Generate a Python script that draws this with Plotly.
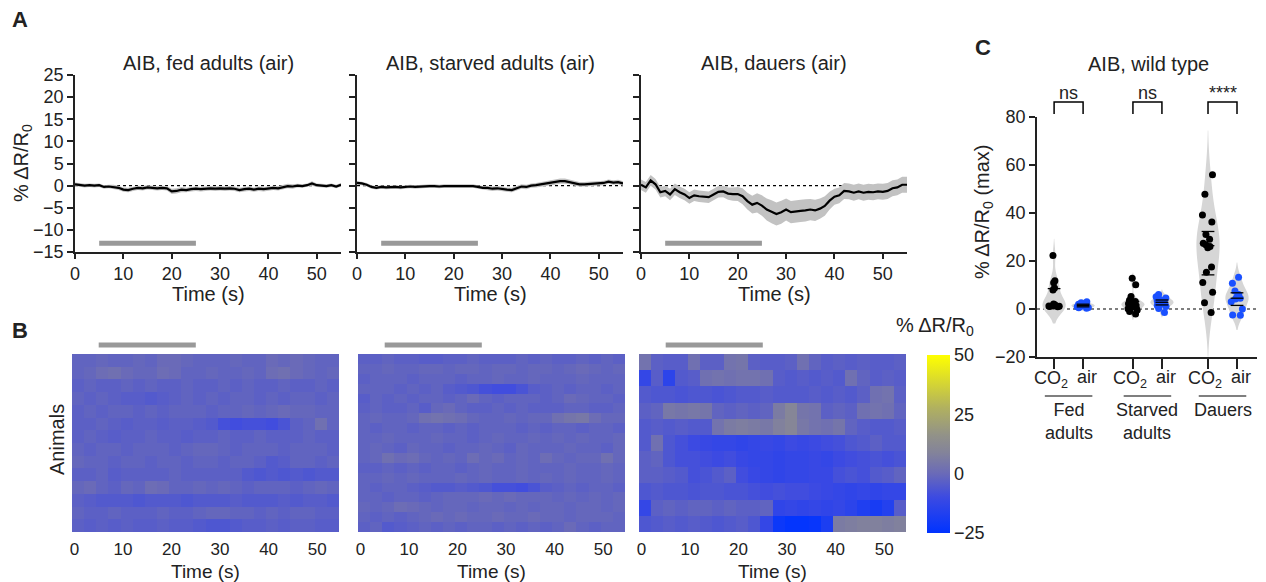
import numpy as np
import plotly.graph_objects as go

W, H = 1266, 582
def px(x): return x / W
def py(y): return 1 - y / H

FONT = "Arial, 'Liberation Sans', sans-serif"
TXT = "#222222"

# ---------------- Panel A data (1 s resolution) ----------------
time_s = list(range(56))
fed_mean = [0.3, 0.2, 0.0, 0.1, 0.0, 0.1, -0.3, -0.2, -0.3, -0.5, -0.9, -1.0, -0.7, -0.5, -0.6, -0.4,
            -0.5, -0.6, -0.5, -0.6, -1.3, -1.2, -0.9, -1.0, -0.8, -0.7, -0.8, -0.7, -0.6, -0.7, -0.6, -0.7,
            -0.6, -0.7, -1.0, -0.8, -0.7, -0.9, -0.7, -0.8, -0.6, -0.5, -0.6, -0.3, -0.1, -0.2, 0.0, -0.1,
            0.1, 0.5, 0.1, 0.0, -0.1, 0.1, -0.2, 0.2]
fed_sem = [0.4, 0.4, 0.4, 0.4, 0.4, 0.4, 0.4, 0.4, 0.5, 0.5, 0.5, 0.5, 0.5, 0.5, 0.5, 0.5,
           0.5, 0.5, 0.5, 0.5, 0.6, 0.6, 0.6, 0.5, 0.5, 0.5, 0.5, 0.5, 0.5, 0.5, 0.5, 0.5,
           0.5, 0.5, 0.5, 0.5, 0.5, 0.5, 0.5, 0.5, 0.5, 0.5, 0.5, 0.5, 0.5, 0.5, 0.4, 0.4,
           0.4, 0.5, 0.4, 0.4, 0.4, 0.4, 0.4, 0.4]
starved_mean = [0.6, 0.5, 0.2, -0.3, -0.5, -0.3, -0.4, -0.3, -0.3, -0.4, -0.3, -0.2, -0.3, -0.2, -0.2, -0.1,
                -0.1, -0.2, -0.1, -0.1, -0.2, -0.1, -0.2, -0.2, -0.1, -0.3, -0.5, -0.5, -0.7, -0.6, -0.8, -0.9,
                -1.0, -0.6, -0.2, -0.3, 0.0, 0.1, 0.3, 0.5, 0.7, 0.8, 1.0, 1.0, 0.8, 0.5, 0.3, 0.3,
                0.4, 0.4, 0.5, 0.6, 0.9, 0.7, 0.8, 0.5]
starved_sem = [0.4, 0.4, 0.4, 0.4, 0.4, 0.4, 0.4, 0.4, 0.4, 0.4, 0.4, 0.4, 0.4, 0.4, 0.4, 0.4,
               0.4, 0.4, 0.4, 0.4, 0.4, 0.4, 0.4, 0.4, 0.4, 0.4, 0.4, 0.5, 0.5, 0.5, 0.5, 0.5,
               0.5, 0.5, 0.5, 0.5, 0.5, 0.5, 0.5, 0.6, 0.6, 0.6, 0.6, 0.6, 0.5, 0.5, 0.5, 0.5,
               0.5, 0.5, 0.5, 0.5, 0.5, 0.5, 0.5, 0.5]
dauer_mean = [0.2, -0.4, 1.2, 0.3, -1.5, -1.2, -2.0, -0.8, -1.5, -2.0, -2.8, -2.2, -2.4, -2.5, -2.6, -2.0,
              -1.4, -1.3, -1.8, -1.9, -1.9, -2.4, -3.5, -4.3, -3.9, -4.5, -5.4, -5.9, -6.4, -6.0, -5.4, -6.0,
              -5.8, -5.7, -5.6, -5.4, -5.6, -5.2, -4.6, -3.4, -2.5, -2.2, -1.2, -1.3, -1.6, -1.3, -1.6, -1.4,
              -1.5, -1.3, -1.4, -1.2, -0.6, -0.4, 0.2, 0.2]
dauer_sem = [1.2, 1.2, 1.2, 1.2, 1.2, 1.2, 1.3, 1.3, 1.3, 1.3, 1.3, 1.3, 1.3, 1.3, 1.3, 1.3,
             1.3, 1.3, 1.4, 1.5, 1.6, 1.8, 1.9, 2.0, 2.2, 2.3, 2.5, 2.6, 2.6, 2.6, 2.5, 2.5,
             2.5, 2.5, 2.5, 2.4, 2.4, 2.3, 2.2, 2.0, 1.8, 1.8, 1.8, 1.8, 1.8, 1.8, 1.8, 1.8,
             1.8, 1.8, 1.8, 1.8, 1.8, 1.8, 1.8, 1.8]

panel_titles = ["AIB, fed adults (air)", "AIB, starved adults (air)", "AIB, dauers (air)"]
stim_on, stim_off = 5, 25

# ---------------- Panel B data (2.5 s bins, % dR/R0) ----------------
hm_fed = [
    [-2, -2, -1, -2, -2, -1, -2, 0, 0, -1, -2, -2, -2, -1, -2, -2, 0, -1, 0, -1, -2, -2],
    [-2, -1, 1, 2, 0, -1, -1, 1, 0, -2, -2, -1, -2, -2, -1, -2, 1, 2, 0, -1, -2, -1],
    [-3, -2, -3, -3, -2, -3, -2, -3, -3, -2, -3, -3, -2, -3, -2, -3, -3, -2, -3, -3, -2, -3],
    [-2, -3, -2, -3, -4, -4, -5, -4, -3, -2, -3, -2, -3, -2, -2, -3, -2, -3, -2, -2, -3, -2],
    [-3, -2, -3, -2, -2, -3, -2, -3, -2, -2, -2, -3, -2, -2, -1, -2, -1, 0, -1, -1, -2, -2],
    [-3, -3, -2, -3, -4, -3, -3, -4, -3, -3, -4, -5, -8, -9, -8, -8, -9, -7, -3, -2, 2, -2],
    [-3, -2, -3, -4, -3, -3, -2, -3, -3, -4, -3, -3, -2, -3, -3, -2, -3, -3, -3, -2, -3, -3],
    [-2, -3, -2, -2, -3, -2, -2, -2, -3, -2, -1, -1, -2, -3, -2, -2, -2, -3, -2, -2, -2, -3],
    [-1, -2, -2, -3, -2, -2, -3, -2, -2, -3, -2, -2, -3, -2, -2, -3, -5, -4, -2, -2, -3, -2],
    [-3, -3, -2, -4, -3, -3, -3, -3, -2, -3, -3, -3, -3, -3, -5, -6, -5, -6, -5, -6, -5, -5],
    [-1, 0, -2, -3, -1, -2, 1, 0, -2, -2, -1, -2, -1, -2, -3, -2, -2, -2, -3, -2, -1, -2],
    [-3, -4, -5, -5, -5, -6, -5, -5, -5, -6, -5, -5, -5, -4, -5, -5, -5, -4, -5, -4, -4, -5],
    [-2, -3, -3, -2, -3, -3, -3, -2, -3, -3, -2, -1, -1, -2, -2, -3, -2, -3, -2, -2, -3, -3],
    [-3, -4, -3, -4, -3, -4, -4, -3, -4, -4, -5, -6, -6, -5, -4, -4, -3, -4, -3, -3, -4, -4],
]
hm_starved = [
    [-3, -3, -2, -3, -3, -4, -4, -3, -3, -2, -3, -3, -3, -2, -3, -2, -3, -3, -2, -3, -2, -3],
    [-2, -2, -1, -2, -2, -1, -1, -2, -1, -1, -2, -1, -1, -2, -1, -1, -2, -1, 0, -1, -2, -1],
    [-3, -2, -2, -2, -3, -2, -2, -2, -3, -2, -2, -1, -2, -2, -1, -2, -2, -2, -1, -2, -2, -2],
    [-2, -2, -2, -3, -2, -3, -2, -4, -5, -6, -8, -9, -9, -7, -4, -3, -2, -3, -2, -2, -3, -2],
    [-4, -2, -3, -2, -3, -2, -2, -3, -2, 0, -2, -3, -2, -2, -2, -3, -2, 0, -1, -2, -2, -3],
    [-3, -2, -3, -3, -2, -4, -1, 0, -2, -3, -3, -2, -3, -2, -3, -3, -3, -2, -2, -3, -3, -2],
    [-2, -1, -2, -2, -1, 2, 3, 2, 1, -1, -2, -2, -1, -2, -1, -1, 2, 4, 5, 1, -1, -1],
    [-2, -3, -2, -2, -3, -2, -2, -3, -2, -3, -2, -2, -2, -3, -2, -3, -2, -2, -3, -2, -2, -3],
    [-2, -2, -1, -2, -2, -2, -1, -2, -2, -3, -2, -1, -2, -2, -1, -2, -1, -2, -1, -2, -2, -1],
    [-2, -1, -2, -3, -1, -2, -2, -3, -2, -2, -1, -2, -3, -1, -2, -2, -2, -1, -2, -2, -3, -1],
    [-2, -1, 2, 0, 1, -1, -2, -1, -2, 1, -1, 0, -2, -1, -2, 1, -1, -2, -1, -1, 2, -1],
    [-3, -3, -2, -3, -2, -3, -2, -2, -3, -2, -1, -2, -2, -1, -2, -2, -2, -1, -2, -2, -1, -2],
    [-2, -2, -1, -2, -1, -2, -2, -2, -1, -2, -1, -2, -2, -1, -2, -1, -2, -1, -2, -2, -1, -2],
    [-2, -3, -2, -2, -3, -4, -5, -5, -4, -5, -6, -8, -8, -9, -7, -4, -3, -2, -3, -2, -2, -3],
    [-2, -2, -3, -2, -2, -3, -2, -1, -1, -1, 0, -1, 0, -1, -1, -1, -2, -1, -2, -1, -2, -1],
    [-1, -2, -1, 1, 0, -1, -2, -1, -1, -2, -1, -1, -2, -1, -2, -1, -1, -2, -1, -1, -2, -1],
    [-2, -3, -2, -3, -2, -1, 0, -1, 0, -1, -1, 0, -1, -1, 0, -1, -1, -2, -1, -1, -1, -2],
    [-3, -2, -5, -4, -3, -2, -3, -2, -3, -2, -2, -3, -2, -3, -2, -3, -2, 0, -2, -3, -2, -2],
]
hm_dauer = [
    [3, -3, -4, -4, 2, -3, -3, 3, 4, -3, -4, -4, -3, 2, -2, -4, -3, -4, -3, -4, -4, -3],
    [-12, -4, -14, -5, -4, 2, 3, 2, 3, 3, 2, -4, -5, -4, -5, -4, -5, 2, -2, -4, -3, -4],
    [-5, -6, -6, -7, -6, -6, -7, -6, -5, -5, -4, -5, -5, -5, -4, -5, -4, -5, -3, 2, 3, -3],
    [-3, -2, 5, 4, 5, 4, -2, -3, -2, -3, -2, 6, 10, 4, 3, -3, -2, -3, 2, 3, 2, -2],
    [-5, -4, -5, -4, -5, -5, 3, 6, 7, 6, 5, 8, 10, 5, 3, 2, 4, -2, -4, -5, -5, -4],
    [-5, 2, -6, -8, -10, -11, -12, -12, -13, -12, -11, -12, -10, -11, -10, -9, -8, -6, -5, -3, -5, -5],
    [-3, -2, -6, -8, -8, -9, -10, -9, -11, -12, -12, -13, -12, -12, -11, -12, -10, -9, -8, -7, -8, -7],
    [-3, -3, -4, -5, -8, -7, -5, -3, -9, -11, -12, -13, -12, -12, -11, -11, -8, -7, -8, -5, -4, -2],
    [-6, -5, -6, -6, -7, -6, -6, -7, -7, -8, -9, -8, -9, -9, -10, -11, -12, -13, -12, -13, -12, -12],
    [-12, -3, -2, -3, -2, -2, -3, -2, -3, -3, -2, -13, -12, -13, -12, -13, -12, -14, -17, -19, -16, -4],
    [-6, -5, -4, -5, -4, -5, -6, -5, -4, -6, -12, -22, -24, -24, -23, -18, 6, 7, 8, 8, 7, 8],
]
hm_bin_s = 2.5
cbar_ticks = [-25, 0, 25, 50]

# ---------------- Panel C data ----------------
group_names = ["Fed<br>adults", "Starved<br>adults", "Dauers"]
fed_co2 = [22.3, 11.8, 10.9, 8.7, 7.9, 2.1, 1.8, 1.5, 1.3, 1.1, 1.0, 0.9, 1.6, 1.2]
fed_air = [3.0, 2.6, 2.2, 2.0, 1.8, 1.5, 1.3, 1.1, 0.9, 0.6, 0.3, 1.7, 0.5]
starved_co2 = [12.8, 10.1, 5.2, 3.6, 3.1, 2.6, 2.2, 2.0, 1.6, 1.2, 0.6, 0.1, -0.4, -1.0, -2.1, 2.4, 1.8]
starved_air = [6.0, 5.1, 4.6, 4.0, 3.5, 3.1, 2.8, 2.5, 2.1, 1.9, 1.5, 1.0, 0.2, -1.5, 3.4]
dauer_co2 = [55.9, 47.8, 39.2, 36.2, 31.0, 29.1, 27.4, 26.8, 26.0, 25.5, 17.5, 15.3, 11.0, 7.0, 2.6, -1.5]
dauer_air = [13.2, 10.7, 7.5, 6.0, 5.0, 4.5, 4.2, 3.0, 0.0, -2.5, -2.6]
significance = ["ns", "ns", "****"]

# ---------------- figure ----------------
fig = go.Figure()

a_axes = [("x", "y"), ("x2", "y2"), ("x3", "y3")]
a_series = [(fed_mean, fed_sem), (starved_mean, starved_sem), (dauer_mean, dauer_sem)]
for (xa, ya), (m, s) in zip(a_axes, a_series):
    m = np.array(m); s = np.array(s)
    fig.add_trace(go.Scatter(x=time_s, y=m + s, mode="lines", line=dict(width=0, color="#c2c2c2"),
                             xaxis=xa, yaxis=ya, hoverinfo="skip"))
    fig.add_trace(go.Scatter(x=time_s, y=m - s, mode="lines", line=dict(width=0, color="#c2c2c2"),
                             fill="tonexty", fillcolor="#c2c2c2", xaxis=xa, yaxis=ya, hoverinfo="skip"))
    fig.add_trace(go.Scatter(x=time_s, y=m, mode="lines", line=dict(width=2.2, color="black"),
                             xaxis=xa, yaxis=ya))

colorscale = [[0.0, "#0033ff"], [0.2, "#3c4ae2"], [0.3333, "#6a6ab8"], [0.45, "#83839a"],
              [0.55, "#929288"], [0.7, "#b0b060"], [0.85, "#d8d830"], [1.0, "#ffff00"]]

b_axes = [("x4", "y4"), ("x5", "y5"), ("x6", "y6")]
for (xa, ya), z in zip(b_axes, [hm_fed, hm_starved, hm_dauer]):
    ncol = len(z[0])
    edges = -0.5 + hm_bin_s * np.arange(ncol + 1)
    fig.add_trace(go.Heatmap(z=z, x=edges, y=np.arange(len(z) + 1) - 0.5, coloraxis="coloraxis",
                             xaxis=xa, yaxis=ya, hoverinfo="skip"))

positions = [0, 1, 2.72, 3.72, 5.31, 6.31]
c_sets = [fed_co2, fed_air, starved_co2, starved_air, dauer_co2, dauer_air]
c_colors = ["black", "#1a50ff"] * 3
for pos, vals, col in zip(positions, c_sets, c_colors):
    fig.add_trace(go.Violin(x=[pos] * len(vals), y=vals, xaxis="x7", yaxis="y7",
                            fillcolor="#d6d6d6", line=dict(width=0, color="#d6d6d6"),
                            points="all", pointpos=0, jitter=0.6, width=0.8, scalemode="width",
                            marker=dict(color=col, size=7), hoverinfo="skip", spanmode="soft"))
# median & quartile dashes
for pos, vals in zip(positions, c_sets):
    q1, med, q3 = np.percentile(vals, [25, 50, 75])
    xs, ys = [], []
    for q in (q1, med, q3):
        xs += [pos - 0.22, pos + 0.22, None]
        ys += [q, q, None]
    fig.add_trace(go.Scatter(x=xs, y=ys, mode="lines", line=dict(color="black", width=1.3),
                             xaxis="x7", yaxis="y7", hoverinfo="skip"))

# ---------------- layout ----------------
def line_axis(**kw):
    d = dict(showline=True, linecolor=TXT, linewidth=1.5, ticks="outside", ticklen=5, tickwidth=1.5,
             tickcolor=TXT, showgrid=False, zeroline=False, automargin=False,
             tickfont=dict(size=18, color=TXT))
    d.update(kw)
    return d

time_ticks = [0, 10, 20, 30, 40, 50]
a_x_dom = [(75, 341), (357, 623), (641, 907)]
b_x_dom = [(72, 339), (358, 625), (639, 906)]
layout = dict(width=W, height=H, margin=dict(l=0, r=0, t=0, b=0, pad=0, autoexpand=False),
              showlegend=False, plot_bgcolor="white", paper_bgcolor="white",
              font=dict(family=FONT, color=TXT), violinmode="overlay")
for i, (x0, x1) in enumerate(a_x_dom):
    n = "" if i == 0 else str(i + 1)
    layout["xaxis" + n] = line_axis(domain=[px(x0), px(x1)], range=[0, 55], tickvals=time_ticks,
                                    anchor="y" + n)
    layout["yaxis" + n] = line_axis(domain=[py(252), py(75)], range=[-15, 25], dtick=5, anchor="x" + n,
                                    showticklabels=(i == 0), ticklen=6)
for i, (x0, x1) in enumerate(b_x_dom):
    n = str(i + 4)
    layout["xaxis" + n] = dict(domain=[px(x0), px(x1)], range=[-0.5, 54.5], tickvals=time_ticks, anchor="y" + n,
                               showline=False, ticks="outside", ticklen=2, tickcolor="rgba(0,0,0,0)",
                               showgrid=False, zeroline=False, automargin=False,
                               tickfont=dict(size=17, color=TXT))
    nrow = len([hm_fed, hm_starved, hm_dauer][i])
    layout["yaxis" + n] = dict(domain=[py(532), py(354)], range=[nrow - 0.5, -0.5], anchor="x" + n,
                               showticklabels=False, ticks="", showgrid=False, zeroline=False,
                               showline=False, automargin=False)
layout["xaxis7"] = line_axis(domain=[px(1037), px(1257)], range=[-0.59, 7.0], tickvals=positions,
                             showticklabels=False, ticklen=10, anchor="y7")
layout["yaxis7"] = line_axis(domain=[py(357), py(117)], range=[-20, 80], dtick=20, anchor="x7", ticklen=6)
layout["coloraxis"] = dict(cmin=-25, cmax=50, colorscale=colorscale,
                           colorbar=dict(x=px(927), xanchor="left", thickness=23, thicknessmode="pixels",
                                         len=178, lenmode="pixels", y=py(444), yanchor="middle",
                                         tickvals=cbar_ticks, ticks="", outlinewidth=0,
                                         tickfont=dict(size=18, color=TXT), ypad=0, xpad=0))

shapes = []
for i in range(3):
    n = "" if i == 0 else str(i + 1)
    shapes.append(dict(type="line", xref="x" + n, yref="y" + n, x0=0, x1=55, y0=0, y1=0, layer="below",
                       line=dict(color="black", width=1.3, dash="dot")))
    shapes.append(dict(type="line", xref="x" + n, yref="y" + n, x0=stim_on, x1=stim_off, y0=-13, y1=-13,
                       line=dict(color="#999999", width=5)))
    shapes.append(dict(type="line", xref="x" + str(i + 4), yref="paper", x0=stim_on, x1=stim_off,
                       y0=py(345), y1=py(345), line=dict(color="#999999", width=5)))
shapes.append(dict(type="line", xref="x7", yref="y7", x0=-0.59, x1=7.0, y0=0, y1=0, layer="below",
                   line=dict(color="black", width=1.2, dash="dot")))

annotations = []
def ann(text, x, y, size=18, **kw):
    d = dict(text=text, x=x, y=y, xref="paper", yref="paper", showarrow=False,
             font=dict(size=size, color=TXT, family=FONT), xanchor="center", yanchor="middle")
    d.update(kw)
    annotations.append(d)

ann("<b>A</b>", px(20), py(20), size=22)
ann("<b>B</b>", px(20), py(330), size=22)
ann("<b>C</b>", px(983), py(47), size=22)
for t, (x0, x1) in zip(panel_titles, a_x_dom):
    ann(t, px((x0 + x1) / 2), py(63), size=20)
    ann("Time (s)", px((x0 + x1) / 2), py(294), size=20)
for (x0, x1) in b_x_dom:
    ann("Time (s)", px((x0 + x1) / 2), py(571), size=19)
ann("% ΔR/R<sub>0</sub>", px(22), py(163), size=20, textangle=-90)
ann("Animals", px(57), py(440), size=20, textangle=-90)
ann("% ΔR/R<sub>0</sub>", px(935), py(326), size=20)
ann("AIB, wild type", px(1148), py(64), size=20)
ann("% ΔR/R<sub>0</sub> (max)", px(983), py(212), size=20, textangle=-90)

def cann(text, x, y, **kw):
    d = dict(text=text, x=x, y=y, xref="x7", yref="paper", showarrow=False, xanchor="center",
             yanchor="middle", font=dict(size=18, color=TXT, family=FONT))
    d.update(kw)
    annotations.append(d)

for g in range(3):
    pc, pa = positions[2 * g], positions[2 * g + 1]
    shapes.append(dict(type="path", xref="x7", yref="paper",
                       path=f"M {pc},{py(114)} L {pc},{py(102)} L {pa},{py(102)} L {pa},{py(114)}",
                       line=dict(color="black", width=1.5)))
    cann(significance[g], (pc + pa) / 2, py(93))
    cann("CO<sub>2</sub>", pc - 0.1, py(379))
    cann("air", pa + 0.15, py(377))
    mid = (pc + pa) / 2
    shapes.append(dict(type="line", xref="x7", yref="paper", x0=mid - 0.82, x1=mid + 0.82,
                       y0=py(396), y1=py(396), line=dict(color="black", width=1.2)))
    cann(group_names[g], mid, py(398), yanchor="top")

layout["shapes"] = shapes
layout["annotations"] = annotations
fig.update_layout(**layout)

fig.write_html("out.html", config={"displayModeBar": False},
               post_script="document.body.style.margin='0';document.body.style.overflow='hidden';")
